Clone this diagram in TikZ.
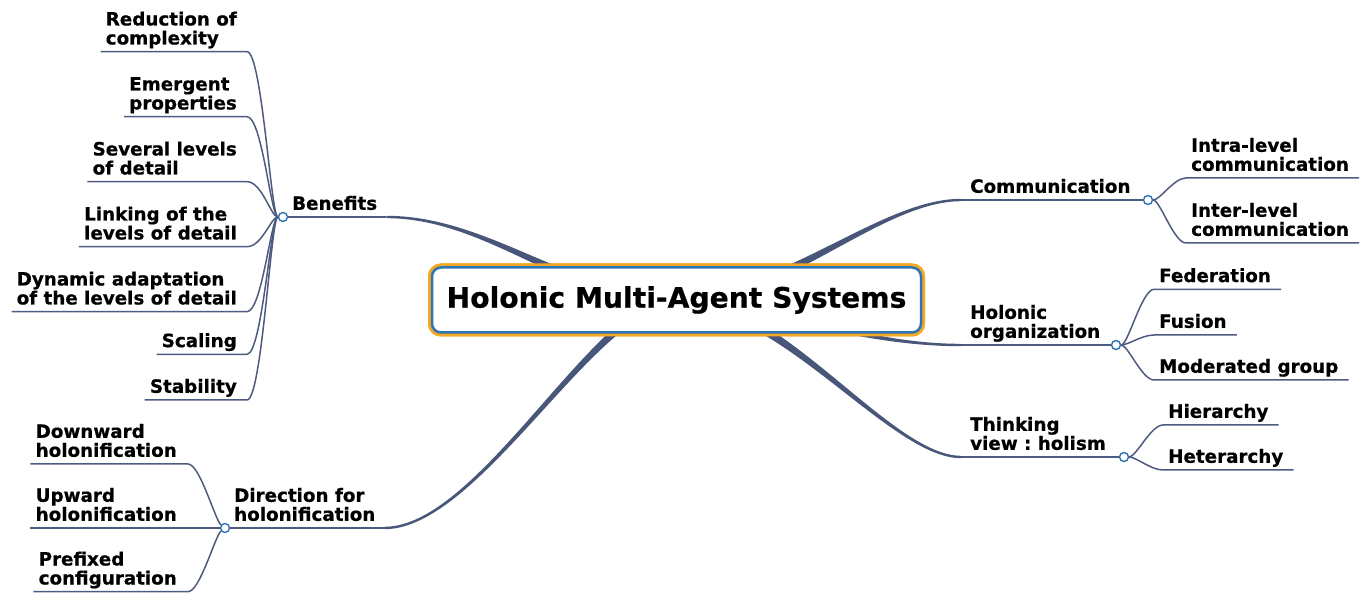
\documentclass[tikz,border=0pt]{standalone}
\usepackage{fontspec}
\setmainfont{DejaVu Sans}[BoldFeatures={FakeBold=0.6}]
\usetikzlibrary{calc}
\definecolor{hmsorange}{RGB}{245,168,38}
\definecolor{hmsblue}{RGB}{46,117,182}
\definecolor{hmsslate}{RGB}{72,86,122}
\definecolor{hmsline}{RGB}{78,90,128}
\newcommand{\leaffont}{\fontsize{18.3}{19}\selectfont\bfseries\frenchspacing}
\newcommand{\titlefont}{\fontsize{28.2}{34}\selectfont\bfseries}
% tapered main branch: start, control 1, control 2, end
\newcommand{\trunk}[4]{%
  \fill[hmsslate] ($(#1)+(0,-5.5)$) .. controls ($(#2)+(0,-5.5)$) and ($(#3)+(0,-1.2)$) .. ($(#4)+(0,-1.2)$)
    -- ($(#4)+(0,1.2)$) .. controls ($(#3)+(0,1.2)$) and ($(#2)+(0,5.5)$) .. ($(#1)+(0,5.5)$) -- cycle;}

\begin{document}
\begin{tikzpicture}[x=1pt, y=-1pt,
  hmsbox/.style={draw=hmsblue, line width=2.5pt, fill=white, rounded corners=9pt,
    minimum width=489pt, minimum height=65pt, inner sep=0pt, font=\titlefont,
    preaction={draw=hmsorange, line width=8pt}},
  branch/.style={font=\leaffont, align=left, inner xsep=9pt, inner ysep=7pt, text depth=0pt},
  leaf/.style={font=\leaffont, align=left, inner xsep=5pt, inner ysep=7pt, text depth=0pt},
  hub/.style={circle, draw=hmsblue, line width=1.4pt, fill=white, minimum size=9pt, inner sep=0pt},
  stem/.style={draw=hmsline, line width=2.2pt},
  twig/.style={draw=hmsline, line width=1.5pt}]
\useasboundingbox (0,0) rectangle (1361,593);

% Hubs
\coordinate (benpt) at (283,217);
\coordinate (dirpt) at (225,528);
\coordinate (compt) at (1148,200);
\coordinate (holpt) at (1116,345);
\coordinate (thkpt) at (1124,457);

% Branch labels
\node[branch, anchor=south west] (ben) at (benpt) {Benefits};
\node[branch, anchor=south west] (dir) at (dirpt) {Direction for\\holonification};
\node[branch, anchor=south west] (com) at (961,200) {Communication};
\node[branch, anchor=south west] (hol) at (961,345) {Holonic\\organization};
\node[branch, anchor=south west] (thk) at (961,457) {Thinking\\view : holism};

% Centre
\node[hmsbox] (hms) at (676.5,300) {};

% Main branches
\trunk{hms.center}{570,300}{490,217}{ben.south east}
\trunk{hms.center}{597,300}{480,528}{dir.south east}
\trunk{hms.center}{780,300}{880,200}{com.south west}
\trunk{hms.center}{760,300}{850,345}{hol.south west}
\trunk{hms.center}{780,300}{890,457}{thk.south west}
\node[hmsbox] at (hms) {Holonic Multi-Agent Systems};

% Hub circles
\node[hub] (benhub) at (benpt) {};
\node[hub] (dirhub) at (dirpt) {};
\node[hub] (comhub) at (compt) {};
\node[hub] (holhub) at (holpt) {};
\node[hub] (thkhub) at (thkpt) {};

\draw[stem] (benhub) -- (ben.south east);
\draw[stem] (dirhub) -- (dir.south east);
\draw[stem] (com.south west) -- (comhub);
\draw[stem] (hol.south west) -- (holhub);
\draw[stem] (thk.south west) -- (thkhub);

% Benefits leaves
\node[leaf, anchor=south east] (red) at (242,51.7) {Reduction of\\complexity};
\node[leaf, anchor=south east] (eme) at (242,116.7) {Emergent\\properties};
\node[leaf, anchor=south east] (sev) at (242,181.7) {Several levels\\of detail};
\node[leaf, anchor=south east] (lnk) at (242,246.7) {Linking of the\\levels of detail};
\node[leaf, anchor=south east] (dyn) at (242,311.7) {Dynamic adaptation\\of the levels of detail};
\node[leaf, anchor=south east] (sca) at (242,354.3) {Scaling};
\node[leaf, anchor=south east] (sta) at (242,400) {Stability};
\foreach \lf in {red,eme,sev,lnk,dyn,sca,sta}
  \draw[twig] (\lf.south west) -- (\lf.south east) -- ++(5,0)
    .. controls +(15,0) and +(-12,0) .. (benhub);

% Direction leaves
\node[leaf, anchor=south east] (dwn) at (182,464) {Downward\\holonification};
\node[leaf, anchor=south east] (upw) at (182,528) {Upward\\holonification};
\node[leaf, anchor=south east] (pre) at (182,591.7) {Prefixed\\configuration};
\draw[twig] (dwn.south west) -- (dwn.south east) -- ++(6,0)
  .. controls +(12,0) and +(-10,-8) .. (dirhub);
\draw[twig] (upw.south west) -- (dirhub);
\draw[twig] (pre.south west) -- (pre.south east) -- ++(6,0)
  .. controls +(12,0) and +(-10,8) .. (dirhub);

% Right leaves
\node[leaf, anchor=south west] (ira) at (1186,178) {Intra-level\\communication};
\node[leaf, anchor=south west] (ier) at (1186,243) {Inter-level\\communication};
\node[leaf, anchor=south west] (fed) at (1154,289.3) {Federation};
\node[leaf, anchor=south west] (fus) at (1154,335) {Fusion};
\node[leaf, anchor=south west] (mod) at (1154,380) {Moderated group};
\node[leaf, anchor=south west] (hie) at (1163,425) {Hierarchy};
\node[leaf, anchor=south west] (het) at (1163,470) {Heterarchy};
\foreach \lf/\hb in {ira/comhub,ier/comhub,fed/holhub,fus/holhub,mod/holhub,hie/thkhub,het/thkhub}
  \draw[twig] (\hb) .. controls +(12,0) and +(-12,0) .. (\lf.south west)
    -- ([xshift=5pt]\lf.south east);
\end{tikzpicture}
\end{document}
